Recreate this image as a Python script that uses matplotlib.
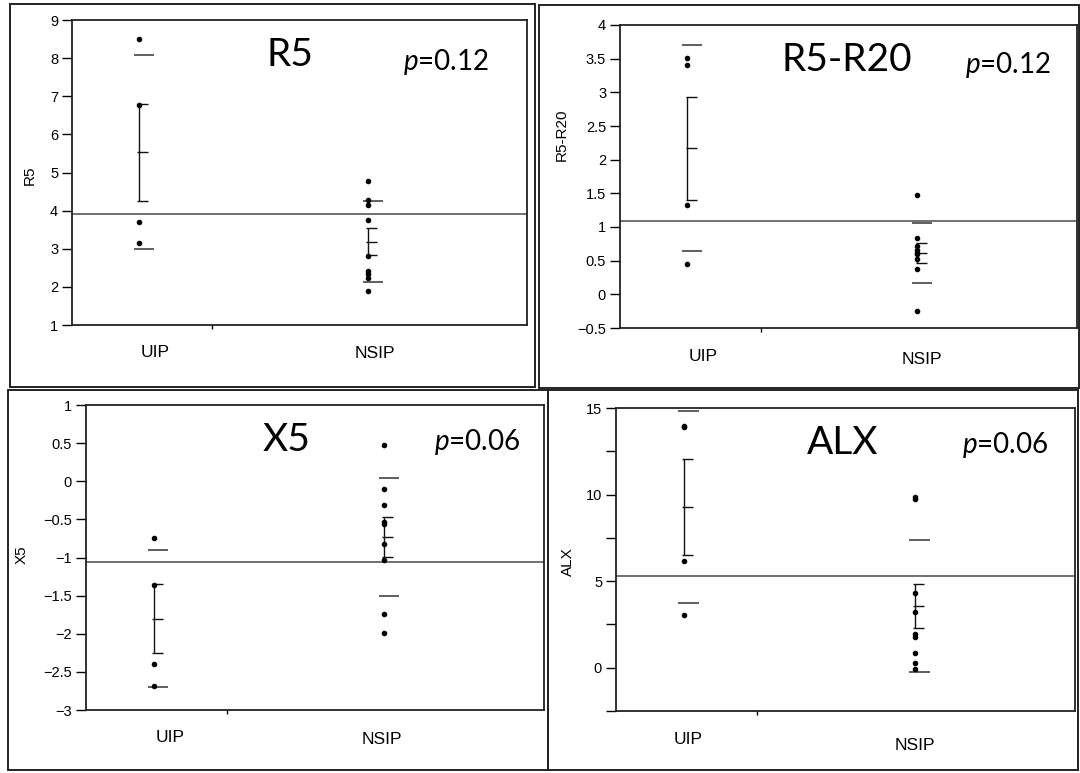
import matplotlib
matplotlib.use("Agg")
import matplotlib.pyplot as plt
from matplotlib.patches import Rectangle
from matplotlib.ticker import FuncFormatter, MultipleLocator
import numpy as np

# group labels
groups = ["UIP", "NSIP"]

# individual values (JMP one-way plots)
r5_uip = [8.51, 6.77, 3.70, 3.14]
r5_nsip = [4.77, 4.27, 4.14, 3.76, 2.82, 2.42, 2.35, 2.22, 1.89]

r5r20_uip = [3.51, 3.40, 1.32, 0.45]
r5r20_nsip = [1.47, 0.84, 0.72, 0.66, 0.62, 0.60, 0.52, 0.38, -0.25]

x5_uip = [-0.75, -1.36, -2.40, -2.69]
x5_nsip = [0.48, -0.10, -0.31, -0.53, -0.56, -0.82, -1.03, -1.74, -1.99]

alx_uip = [13.97, 13.89, 6.19, 3.03]
alx_nsip = [9.88, 9.75, 4.34, 3.24, 1.95, 1.79, 0.83, 0.25, -0.09]

titles = ["R5", "R5-R20", "X5", "ALX"]
p_values = ["0.12", "0.12", "0.06", "0.06"]

W, H = 1080, 773

plt.rcParams["mathtext.fontset"] = "custom"
plt.rcParams["mathtext.it"] = "Lato:italic"
plt.rcParams["mathtext.rm"] = "Lato"

fig = plt.figure(figsize=(W / 100, H / 100), dpi=100)


def frac_rect(x0, y0, x1, y1):
    # pixel box (top-left origin) -> figure fraction
    return [x0 / W, 1 - y1 / H, (x1 - x0) / W, (y1 - y0) / H]


def fig_xy(x, y):
    return x / W, 1 - y / H


def minus_fmt(v, _):
    return f"{v:g}".replace("-", "\u2212")


layout = [
    dict(data=(r5_uip, r5_nsip), ylim=(1, 9), major=1, minor=None,
         ax=(72, 20, 527, 325), frame=(10, 4, 535, 387),
         title_xy=(290, 55), p_xy=(446, 62), ylab_xy=(30, 175),
         cat_xy=((155, 352), (375, 353))),
    dict(data=(r5r20_uip, r5r20_nsip), ylim=(-0.5, 4), major=0.5, minor=None,
         ax=(620, 25, 1077, 328), frame=(539, 5, 1079, 388),
         title_xy=(847, 60), p_xy=(1008, 65), ylab_xy=(562, 135),
         cat_xy=((703, 357), (922, 359))),
    dict(data=(x5_uip, x5_nsip), ylim=(-3, 1), major=0.5, minor=None,
         ax=(86, 405, 544, 710), frame=(8, 390, 548, 770),
         title_xy=(287, 440), p_xy=(477, 442), ylab_xy=(22, 555),
         cat_xy=((170, 738), (382, 740))),
    dict(data=(alx_uip, alx_nsip), ylim=(-2.5, 15), major=5, minor=2.5,
         ax=(616, 408, 1075, 711), frame=(548, 390, 1078, 770),
         title_xy=(843, 443), p_xy=(1005, 445), ylab_xy=(568, 562),
         cat_xy=((688, 740), (915, 745))),
]

for title, pval, cfg in zip(titles, p_values, layout):
    # outer panel frame
    x0, y0, x1, y1 = cfg["frame"]
    fig.patches.append(Rectangle(fig_xy(x0, y1), (x1 - x0) / W, (y1 - y0) / H,
                                 transform=fig.transFigure, fill=False,
                                 edgecolor="#222222", linewidth=1.4))

    ax = fig.add_axes(frac_rect(*cfg["ax"]))
    uip, nsip = cfg["data"]
    sizes = [len(uip), len(nsip)]
    total = sum(sizes)
    centers = [sizes[0] / 2 - 0.08, sizes[0] + sizes[1] / 2 - 0.04]

    for vals, c in zip((uip, nsip), centers):
        vals = np.array(vals)
        m = vals.mean()
        sd = vals.std(ddof=1)
        se = sd / np.sqrt(len(vals))
        ax.plot(np.full(len(vals), c), vals, "o", color="black",
                markersize=3.0, zorder=4)
        # mean +/- SE error bar
        ax.vlines(c, m - se, m + se, color="#111111", linewidth=1.0)
        ax.hlines([m - se, m, m + se], c - 0.05, c + 0.26,
                  color="#111111", linewidth=1.0)
        # mean +/- SD lines
        ax.hlines([m - sd, m + sd], c - 0.15, c + 0.42,
                  color="#333333", linewidth=1.1)

    grand = np.concatenate([uip, nsip]).mean()
    ax.axhline(grand, color="#4a4a4a", linewidth=1.1, zorder=1)

    ax.set_xlim(0, total)
    ax.set_ylim(*cfg["ylim"])
    ax.yaxis.set_major_locator(MultipleLocator(cfg["major"]))
    if cfg["minor"]:
        ax.yaxis.set_minor_locator(MultipleLocator(cfg["minor"]))
        ax.tick_params(axis="y", which="minor", length=7, width=1)
    ax.yaxis.set_major_formatter(FuncFormatter(minus_fmt))
    ax.set_xticks([sizes[0]])
    ax.set_xticklabels([])
    ax.tick_params(axis="x", length=3, width=1)
    ax.tick_params(axis="y", length=7, width=1, pad=3, labelsize=10.5)
    for lab in ax.get_yticklabels():
        lab.set_fontfamily("Liberation Sans")
    for s in ax.spines.values():
        s.set_linewidth(1.3)
        s.set_color("#222222")

    fig.text(*fig_xy(*cfg["title_xy"]), title, fontsize=28, family="Lato",
             ha="center", va="center")
    fig.text(*fig_xy(*cfg["p_xy"]), r"$\mathit{p}$=" + pval, fontsize=20,
             family="Lato", ha="center", va="center")
    fig.text(*fig_xy(*cfg["ylab_xy"]), title, fontsize=11,
             family="Liberation Sans", rotation=90, ha="center", va="center")
    for g, xy in zip(groups, cfg["cat_xy"]):
        fig.text(*fig_xy(*xy), g, fontsize=12.5, family="Liberation Sans",
                 ha="center", va="center")

fig.savefig("out.png", dpi=100)
